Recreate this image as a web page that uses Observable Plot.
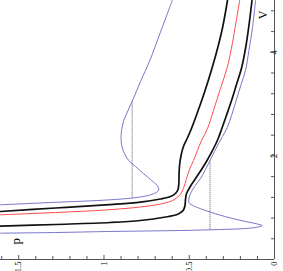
<!DOCTYPE html>
<html><head><meta charset="utf-8">
<script src="https://cdn.jsdelivr.net/npm/d3@7"></script>
<script src="https://cdn.jsdelivr.net/npm/@observablehq/plot@0.6"></script>
<style>body{margin:0;background:#fff}</style>
</head><body><div id="chart"></div>
<script>
// Isotherms p(V)
const blueOuterP = [1.607,1.314,0.962,0.786,0.710,0.683,0.679,0.688,0.727,0.767,0.815,0.855,0.880,0.896,0.900,0.896,0.884,0.859,0.825,0.786,0.731,0.669,0.600];
const blueOuterV = [1.056,1.100,1.153,1.207,1.268,1.322,1.365,1.429,1.544,1.654,1.795,1.911,2.046,2.201,2.355,2.510,2.683,2.876,3.127,3.436,3.842,4.388,5.000];

const blackUpperP = [1.607,1.284,0.991,0.786,0.669,0.610,0.581,0.566,0.561,0.560,0.557,0.548,0.534,0.512,0.487,0.452,0.411,0.367,0.328,0.302,0.276];
const blackUpperV = [0.927,0.994,1.056,1.106,1.168,1.216,1.274,1.351,1.467,1.622,1.815,2.008,2.181,2.336,2.529,2.838,3.224,3.687,4.151,4.517,5.000];

const redP = [1.607,1.284,0.991,0.786,0.669,0.598,0.557,0.534,0.516,0.496,0.475,0.452,0.428,0.393,0.358,0.317,0.279,0.246,0.226,0.204];
const redV = [0.863,0.907,0.956,1.014,1.071,1.139,1.236,1.371,1.564,1.757,1.911,2.104,2.297,2.529,2.876,3.301,3.687,4.189,4.575,5.000];

const blackLowerP = [1.607,1.284,0.962,0.786,0.639,0.571,0.551,0.534,0.525,0.522,0.516,0.504,0.487,0.463,0.434,0.399,0.370,0.346,0.328,0.311,0.282,0.252,0.223,0.194,0.170,0.150,0.132];
const blackLowerV = [0.643,0.676,0.714,0.753,0.820,0.869,0.907,0.956,1.042,1.158,1.274,1.351,1.448,1.564,1.708,1.892,2.066,2.220,2.355,2.510,2.780,3.069,3.378,3.687,4.073,4.517,5.000];

const blueInnerP = [1.607,1.284,0.962,0.551,0.317,0.170,0.106,0.072,0.100,0.170,0.258,0.375,0.452,0.490,0.503,0.501,0.493,0.469,0.434,0.405,0.378,0.352,0.328,0.305,0.277,0.252,0.223,0.196,0.170,0.150,0.129,0.111];
const blueInnerV = [0.508,0.521,0.541,0.560,0.579,0.598,0.622,0.656,0.685,0.734,0.801,0.913,1.004,1.062,1.106,1.187,1.268,1.409,1.564,1.737,1.911,2.085,2.239,2.375,2.548,2.780,3.089,3.378,3.649,4.035,4.479,5.000];

// Maxwell (equal-area) lines
const maxwellP = [0.835, 0.378];
const maxwellV1 = [1.19, 0.574];
const maxwellV2 = [3.05, 1.92];

// Ticks
const pLabels = [0, 0.5, 1, 1.5];
const pMinor = [0.1,0.2,0.3,0.4,0.6,0.7,0.8,0.9,1.1,1.2,1.3,1.4,1.6];
const vLabels = [2, 4];
const vMinor = [0.4,0.8,1.2,1.6,2.4,2.8,3.2,3.6,4.4,4.8];

const rows = (P, V) => P.map((p, i) => ({p, V: V[i]}));
const serif = "Liberation Serif, Times New Roman, serif";
const blue = "#7676cc", red = "#ff4a4a";

const chart = Plot.plot({
  width: 283, height: 271,
  marginLeft: 0, marginTop: 0, marginRight: 9, marginBottom: 12,
  x: {domain: [1.607, 0], axis: null},
  y: {domain: [0, 5], axis: null},
  style: {background: "white", fontFamily: serif, color: "black"},
  marks: [
    Plot.ruleX(maxwellP.map((p, i) => i), {x: i => maxwellP[i], y1: i => maxwellV1[i], y2: i => maxwellV2[i], stroke: "#555", strokeWidth: 1, strokeDasharray: "1,1"}),
    Plot.line(rows(blueOuterP, blueOuterV), {x: "p", y: "V", stroke: blue, strokeWidth: 1, curve: "catmull-rom", clip: true}),
    Plot.line(rows(blueInnerP, blueInnerV), {x: "p", y: "V", stroke: blue, strokeWidth: 1, curve: "catmull-rom", clip: true}),
    Plot.line(rows(redP, redV), {x: "p", y: "V", stroke: red, strokeWidth: 1, curve: "catmull-rom", clip: true}),
    Plot.line(rows(blackUpperP, blackUpperV), {x: "p", y: "V", stroke: "#111", strokeWidth: 1.7, curve: "catmull-rom", clip: true}),
    Plot.line(rows(blackLowerP, blackLowerV), {x: "p", y: "V", stroke: "#111", strokeWidth: 1.7, curve: "catmull-rom", clip: true}),
    Plot.ruleY([0], {stroke: "#555"}),
    Plot.ruleX([0], {stroke: "#555"}),
    Plot.tickX(pMinor, {x: d => d, insetTop: 256, stroke: "#555"}),
    Plot.tickX(pLabels, {x: d => d, insetTop: 255, stroke: "#555"}),
    Plot.tickY(vMinor, {y: d => d, insetLeft: 271, stroke: "#555"}),
    Plot.tickY(vLabels, {y: d => d, insetLeft: 270, stroke: "#555"}),
    Plot.axisX(pLabels, {anchor: "bottom", tickSize: 0, tickPadding: 2, tickRotate: -90, fontSize: 8.5, label: null, tickFormat: d => String(d)}),
    Plot.axisY(vLabels, {anchor: "right", tickSize: 0, tickPadding: 2, tickRotate: -90, fontSize: 8.5, label: null, tickFormat: d => String(d)}),
    Plot.text(["p"], {frameAnchor: "bottom-left", dx: 19, dy: -15, rotate: -90, fontSize: 13, fontFamily: serif}),
    Plot.text(["V"], {frameAnchor: "top-right", dx: -16, dy: 10, rotate: -90, fontSize: 12, fontFamily: serif})
  ]
});
document.getElementById("chart").append(chart);
</script>
</body></html>
